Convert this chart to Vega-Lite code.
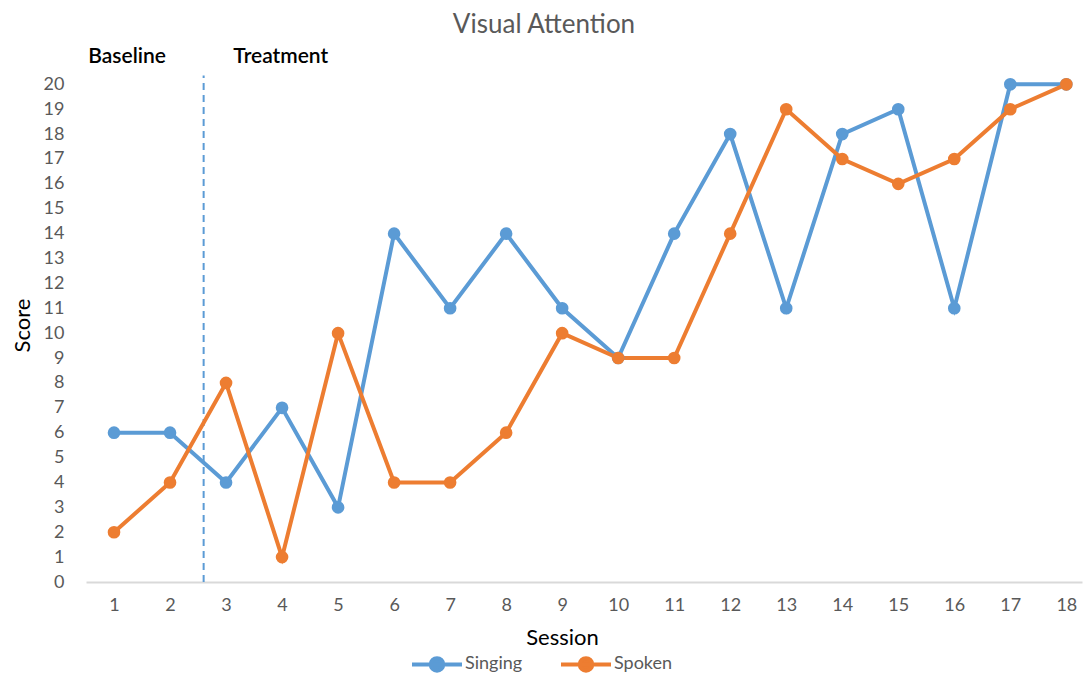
{
  "$schema": "https://vega.github.io/schema/vega-lite/v6.json",
  "width": 996,
  "height": 535,
  "autosize": "none",
  "padding": {"left": 86, "top": 47, "right": 1, "bottom": 93},
  "background": "white",
  "config": {
    "view": {"stroke": null},
    "font": "Lato"
  },
  "title": {
    "text": "Visual Attention",
    "fontSize": 26,
    "fontWeight": "normal",
    "color": "#595959",
    "font": "Lato",
    "dx": -40,
    "offset": 8
  },
  "layer": [
    {
      "data": {"values": [{"x": 2.6, "y0": 0, "y1": 20.35}]},
      "mark": {"type": "rule", "stroke": "#5B9BD5", "strokeWidth": 2, "strokeDash": [7, 5]},
      "encoding": {
        "x": {
          "field": "x", "type": "quantitative",
          "scale": {"domain": [0.5, 18.28], "nice": false, "zero": false},
          "axis": {
            "values": [1,2,3,4,5,6,7,8,9,10,11,12,13,14,15,16,17,18],
            "title": "Session",
            "titleFontSize": 22,
            "titleFontWeight": "normal",
            "titleColor": "#000000",
            "titleX": 476,
            "titleY": 55,
            "titleBaseline": "middle",
            "labelFontSize": 18,
            "labelColor": "#595959",
            "labelPadding": 14,
            "labelOverlap": false,
            "ticks": false,
            "grid": false,
            "domainColor": "#D9D9D9",
            "domainWidth": 2
          }
        },
        "y": {
          "field": "y0", "type": "quantitative",
          "scale": {"domain": [0, 21.5], "nice": false},
          "axis": {
            "values": [0,1,2,3,4,5,6,7,8,9,10,11,12,13,14,15,16,17,18,19,20],
            "title": "Score",
            "titleFontSize": 22,
            "titleFontWeight": "normal",
            "titleColor": "#000000",
            "titleX": -64,
            "titleY": 278,
            "titleBaseline": "middle",
            "labelFontSize": 18,
            "labelColor": "#595959",
            "labelPadding": 22,
            "labelOverlap": false,
            "ticks": false,
            "grid": false,
            "domain": false
          }
        },
        "y2": {"field": "y1"}
      }
    },
    {
      "data": {"values": [
        {"session": 1, "score": 6, "series": "Singing"},
        {"session": 2, "score": 6, "series": "Singing"},
        {"session": 3, "score": 4, "series": "Singing"},
        {"session": 4, "score": 7, "series": "Singing"},
        {"session": 5, "score": 3, "series": "Singing"},
        {"session": 6, "score": 14, "series": "Singing"},
        {"session": 7, "score": 11, "series": "Singing"},
        {"session": 8, "score": 14, "series": "Singing"},
        {"session": 9, "score": 11, "series": "Singing"},
        {"session": 10, "score": 9, "series": "Singing"},
        {"session": 11, "score": 14, "series": "Singing"},
        {"session": 12, "score": 18, "series": "Singing"},
        {"session": 13, "score": 11, "series": "Singing"},
        {"session": 14, "score": 18, "series": "Singing"},
        {"session": 15, "score": 19, "series": "Singing"},
        {"session": 16, "score": 11, "series": "Singing"},
        {"session": 17, "score": 20, "series": "Singing"},
        {"session": 18, "score": 20, "series": "Singing"},
        {"session": 1, "score": 2, "series": "Spoken"},
        {"session": 2, "score": 4, "series": "Spoken"},
        {"session": 3, "score": 8, "series": "Spoken"},
        {"session": 4, "score": 1, "series": "Spoken"},
        {"session": 5, "score": 10, "series": "Spoken"},
        {"session": 6, "score": 4, "series": "Spoken"},
        {"session": 7, "score": 4, "series": "Spoken"},
        {"session": 8, "score": 6, "series": "Spoken"},
        {"session": 9, "score": 10, "series": "Spoken"},
        {"session": 10, "score": 9, "series": "Spoken"},
        {"session": 11, "score": 9, "series": "Spoken"},
        {"session": 12, "score": 14, "series": "Spoken"},
        {"session": 13, "score": 19, "series": "Spoken"},
        {"session": 14, "score": 17, "series": "Spoken"},
        {"session": 15, "score": 16, "series": "Spoken"},
        {"session": 16, "score": 17, "series": "Spoken"},
        {"session": 17, "score": 19, "series": "Spoken"},
        {"session": 18, "score": 20, "series": "Spoken"}
      ]},
      "mark": {"type": "line", "strokeWidth": 4, "point": {"filled": true, "size": 160, "opacity": 1}},
      "encoding": {
        "x": {
          "field": "session", "type": "quantitative",
          "scale": {"domain": [0.5, 18.28], "nice": false, "zero": false},
          "axis": {
            "values": [1,2,3,4,5,6,7,8,9,10,11,12,13,14,15,16,17,18],
            "title": "Session",
            "titleFontSize": 22,
            "titleFontWeight": "normal",
            "titleColor": "#000000",
            "titleX": 476,
            "titleY": 55,
            "titleBaseline": "middle",
            "labelFontSize": 18,
            "labelColor": "#595959",
            "labelPadding": 14,
            "labelOverlap": false,
            "ticks": false,
            "grid": false,
            "domainColor": "#D9D9D9",
            "domainWidth": 2
          }
        },
        "y": {
          "field": "score", "type": "quantitative",
          "scale": {"domain": [0, 21.5], "nice": false},
          "axis": {
            "values": [0,1,2,3,4,5,6,7,8,9,10,11,12,13,14,15,16,17,18,19,20],
            "title": "Score",
            "titleFontSize": 22,
            "titleFontWeight": "normal",
            "titleColor": "#000000",
            "titleX": -64,
            "titleY": 278,
            "titleBaseline": "middle",
            "labelFontSize": 18,
            "labelColor": "#595959",
            "labelPadding": 22,
            "labelOverlap": false,
            "ticks": false,
            "grid": false,
            "domain": false
          }
        },
        "color": {
          "field": "series", "type": "nominal",
          "scale": {"domain": ["Singing", "Spoken"], "range": ["#5B9BD5", "#ED7D31"]},
          "legend": {
            "title": null,
            "orient": "none",
            "direction": "horizontal",
            "legendX": 324,
            "legendY": 590,
            "symbolType": "M-1,0L1,0M0.25,0A0.25,0.25,0,1,1,-0.25,0A0.25,0.25,0,1,1,0.25,0Z",
            "symbolSize": 2500,
            "symbolStrokeWidth": 4,
            "labelFontSize": 18,
            "labelColor": "#595959",
            "labelOffset": 1,
            "columnPadding": 30,
            "encode": {
              "symbols": {"update": {"fill": {"scale": "color", "field": "value"}, "stroke": {"scale": "color", "field": "value"}, "opacity": {"value": 1}}}
            }
          }
        }
      }
    },
    {
      "data": {"values": [
        {"x": 0.54, "y": 21.1, "label": "Baseline"},
        {"x": 3.13, "y": 21.1, "label": "Treatment"}
      ]},
      "mark": {"type": "text", "align": "left", "baseline": "middle", "fontSize": 21, "fontWeight": 600, "color": "#000000", "font": "Lato"},
      "encoding": {
        "x": {
          "field": "x", "type": "quantitative",
          "scale": {"domain": [0.5, 18.28], "nice": false, "zero": false},
          "axis": {
            "values": [1,2,3,4,5,6,7,8,9,10,11,12,13,14,15,16,17,18],
            "title": "Session",
            "titleFontSize": 22,
            "titleFontWeight": "normal",
            "titleColor": "#000000",
            "titleX": 476,
            "titleY": 55,
            "titleBaseline": "middle",
            "labelFontSize": 18,
            "labelColor": "#595959",
            "labelPadding": 14,
            "labelOverlap": false,
            "ticks": false,
            "grid": false,
            "domainColor": "#D9D9D9",
            "domainWidth": 2
          }
        },
        "y": {
          "field": "y", "type": "quantitative",
          "scale": {"domain": [0, 21.5], "nice": false},
          "axis": {
            "values": [0,1,2,3,4,5,6,7,8,9,10,11,12,13,14,15,16,17,18,19,20],
            "title": "Score",
            "titleFontSize": 22,
            "titleFontWeight": "normal",
            "titleColor": "#000000",
            "titleX": -64,
            "titleY": 278,
            "titleBaseline": "middle",
            "labelFontSize": 18,
            "labelColor": "#595959",
            "labelPadding": 22,
            "labelOverlap": false,
            "ticks": false,
            "grid": false,
            "domain": false
          }
        },
        "text": {"field": "label"}
      }
    }
  ]
}
